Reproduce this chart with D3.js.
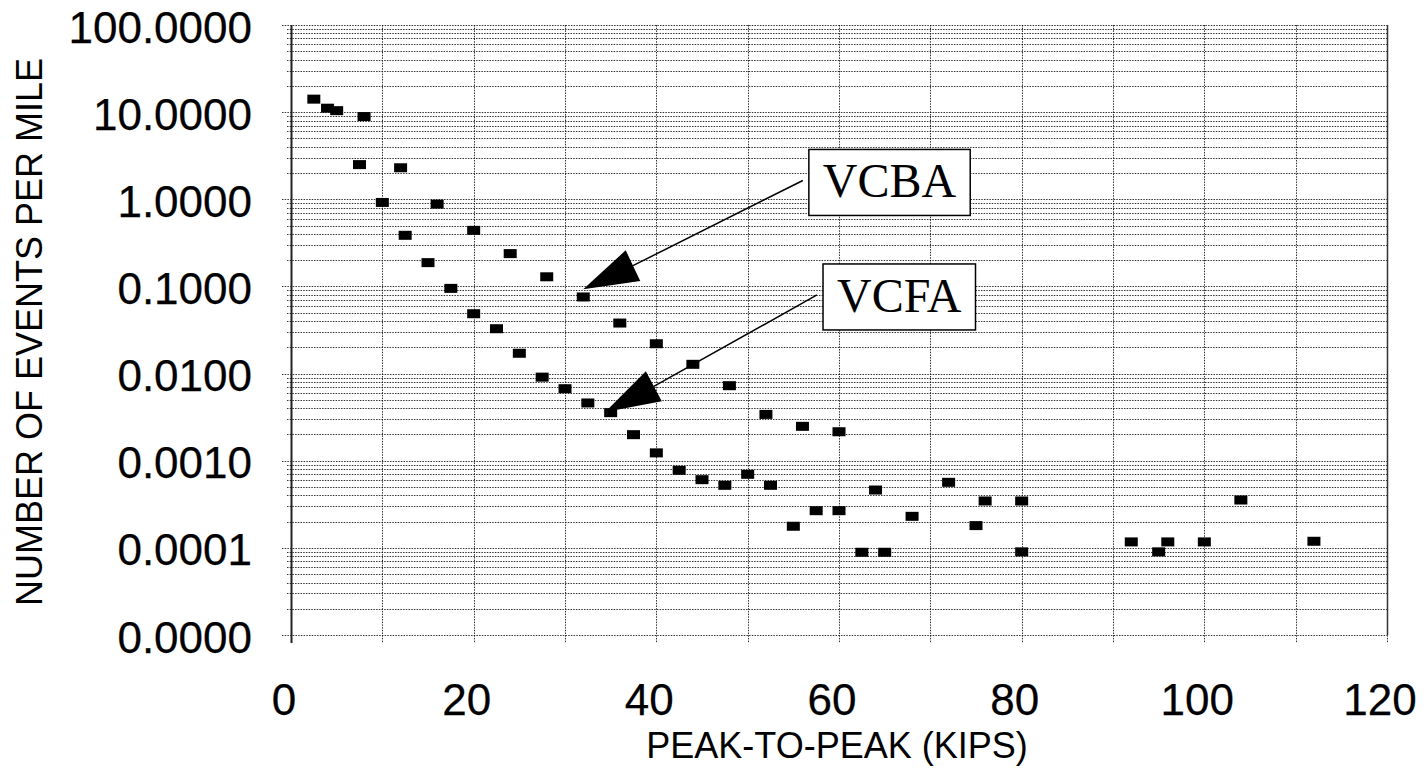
<!DOCTYPE html>
<html>
<head>
<meta charset="utf-8">
<script src="https://cdn.jsdelivr.net/npm/d3@7"></script>
<style>
  html, body { margin: 0; padding: 0; background: #fff; }
  svg { display: block; }
</style>
</head>
<body>
<script>
// ---------------- data ----------------
const peakToPeak = [2.5, 4, 5, 8, 7.5, 12, 10, 16, 12.5, 20,
  24, 15, 28, 17.5, 32, 20, 36, 22.5, 40, 25, 27.5, 30, 32.5, 35, 37.5, 40,
  44, 48, 52, 56, 60, 42.5, 45, 47.5, 50, 52.5, 57.5, 60, 55, 64, 68, 62.5, 65, 72, 76, 80, 75, 80,
  104, 92, 96, 95, 100, 112];
const eventsPerMile = [14.1, 11.1, 10.4, 8.9, 2.5, 2.3, 0.92, 0.88, 0.386, 0.44,
  0.238, 0.1875, 0.129, 0.095, 0.0757, 0.0486, 0.038, 0.0327, 0.022, 0.0171, 0.0091, 0.0067, 0.0046, 0.00356, 0.00199, 0.00123,
  0.01277, 0.00726, 0.0034, 0.00248, 0.00215, 0.000776, 0.000606, 0.000522, 0.000698, 0.000522, 0.000267, 0.000267, 0.000177, 0.000461, 0.00023, 0.000089, 0.000089, 0.000565, 0.000345, 0.000345, 0.00018, 0.00009,
  0.000354, 0.000117, 0.000117, 0.00009, 0.000117, 0.000119];

const xTickValues = [0, 20, 40, 60, 80, 100, 120];
const yTickValues = [1e-5, 1e-4, 1e-3, 1e-2, 1e-1, 1, 10, 100];
const yTickLabels = ["0.0000", "0.0001", "0.0010", "0.0100", "0.1000", "1.0000", "10.0000", "100.0000"];

const annotationLabels = ["VCBA", "VCFA"];
const annotationBoxAt = [[56.7, 1.56], [58.25, 0.0757]];   // left-middle of label box (data units)
const annotationTipAt = [[32.0, 0.093], [34.4, 0.00362]];  // arrow tip (data units)

const xTitle = "PEAK-TO-PEAK (KIPS)";
const yTitle = "NUMBER OF EVENTS PER MILE";

// ---------------- layout ----------------
const W = 1428, H = 769;
const mLeft = 291, mRight = 1387, mTop = 25, mBottom = 635;

const svg = d3.select("body").append("svg").attr("width", W).attr("height", H);

const x = d3.scaleLinear().domain([0, 120]).range([mLeft, mRight]);
const y = d3.scaleLog().domain([1e-5, 100]).range([mBottom, mTop]);

// ---------------- grid ----------------
const grid = svg.append("g").attr("stroke", "#000").attr("stroke-width", 1)
  .attr("stroke-dasharray", "1.5,1.2").attr("stroke-opacity", 0.8).attr("fill", "none");

const minorY = [];
for (let e = -5; e < 2; e++) for (let m = 2; m <= 9; m++) minorY.push(m * Math.pow(10, e));
grid.selectAll("line.hmin").data(minorY).join("line").attr("class", "hmin")
  .attr("x1", mLeft - 4).attr("x2", mRight)
  .attr("y1", d => Math.round(y(d)) + 0.5).attr("y2", d => Math.round(y(d)) + 0.5);
grid.selectAll("line.hmaj").data(yTickValues).join("line").attr("class", "hmaj")
  .attr("x1", mLeft - 9).attr("x2", mRight)
  .attr("y1", d => Math.round(y(d)) + 0.5).attr("y2", d => Math.round(y(d)) + 0.5);
grid.selectAll("line.v").data(d3.range(10, 121, 10)).join("line").attr("class", "v")
  .attr("x1", d => Math.round(x(d)) + 0.5).attr("x2", d => Math.round(x(d)) + 0.5)
  .attr("y1", mTop).attr("y2", mBottom + 8);

svg.append("line").attr("x1", mLeft + 0.5).attr("x2", mLeft + 0.5).attr("y1", mTop).attr("y2", mBottom + 8)
  .attr("stroke", "#222").attr("stroke-width", 2);
svg.append("line").attr("x1", mRight + 0.5).attr("x2", mRight + 0.5).attr("y1", mTop).attr("y2", mBottom)
  .attr("stroke", "#333").attr("stroke-width", 1.5);

// ---------------- tick labels ----------------
const tickFont = "'Liberation Sans', Arial, sans-serif";
svg.append("g").selectAll("text").data(yTickValues).join("text")
  .attr("x", 252).attr("y", d => y(d) + 2)
  .attr("text-anchor", "end").attr("dominant-baseline", "central")
  .attr("font-family", tickFont).attr("font-size", 44).attr("fill", "#000")
  .attr("stroke", "#000").attr("stroke-width", 0.25)
  .text((d, i) => yTickLabels[i]);

svg.append("g").selectAll("text").data(xTickValues).join("text")
  .attr("x", d => x(d) - 7).attr("y", 715)
  .attr("text-anchor", "middle")
  .attr("font-family", tickFont).attr("font-size", 44).attr("fill", "#000")
  .attr("stroke", "#000").attr("stroke-width", 0.25)
  .text(d => d);

svg.append("text").attr("x", 837).attr("y", 758).attr("text-anchor", "middle")
  .attr("font-family", tickFont).attr("font-size", 36).text(xTitle);
svg.append("text").attr("transform", "translate(42,332) rotate(-90)").attr("text-anchor", "middle")
  .attr("font-family", tickFont).attr("font-size", 36).text(yTitle);

// ---------------- markers ----------------
const pts = peakToPeak.map((v, i) => ({ x: v, y: eventsPerMile[i] }));
svg.append("g").selectAll("rect").data(pts).join("rect")
  .attr("x", d => x(d.x) - 6.5).attr("y", d => y(d.y) - 4.5)
  .attr("width", 13).attr("height", 9).attr("fill", "#000");

// ---------------- annotations ----------------
const ann = annotationLabels.map((t, i) => ({
  label: t, bx: x(annotationBoxAt[i][0]), by: y(annotationBoxAt[i][1]),
  tx: x(annotationTipAt[i][0]), ty: y(annotationTipAt[i][1])
}));
const ag = svg.append("g");
ann.forEach(a => {
  const dx = a.tx - a.bx, dy = a.ty - a.by;
  const len = Math.hypot(dx, dy);
  const ux = dx / len, uy = dy / len;
  const headLen = 55, headW = 34;
  const baseX = a.tx - ux * headLen, baseY = a.ty - uy * headLen;
  const px = -uy, py = ux;
  ag.append("line").attr("x1", a.bx - 6).attr("y1", a.by - 2).attr("x2", baseX).attr("y2", baseY)
    .attr("stroke", "#000").attr("stroke-width", 1.5);
  ag.append("path")
    .attr("d", `M${a.tx},${a.ty} L${baseX + px * headW / 2},${baseY + py * headW / 2} L${baseX - px * headW / 2},${baseY - py * headW / 2} Z`)
    .attr("fill", "#000");
  const rect = ag.append("rect");
  const txt = ag.append("text").attr("font-family", "'Liberation Serif', 'Times New Roman', serif")
    .attr("font-size", 48).attr("text-anchor", "middle").text(a.label);
  const tw = txt.node().getComputedTextLength();
  const bw = tw + 28, bh = 66;
  rect.attr("x", a.bx).attr("y", a.by - bh / 2).attr("width", bw).attr("height", bh)
    .attr("fill", "#fff").attr("stroke", "#000").attr("stroke-width", 1.5);
  txt.attr("x", a.bx + bw / 2).attr("y", a.by + 15);
});
</script>
</body>
</html>
